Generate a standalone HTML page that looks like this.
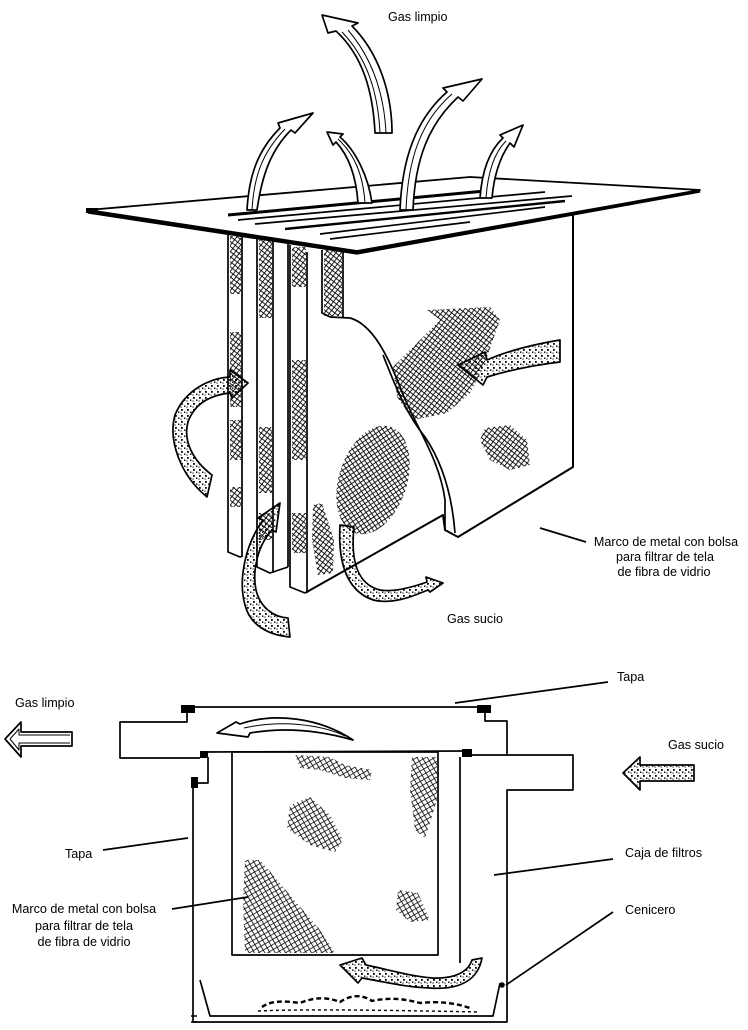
<!DOCTYPE html>
<html><head><meta charset="utf-8"><style>
html,body{margin:0;padding:0;background:#fff;}
svg{display:block;}
text{font-family:"Liberation Sans",Arial,sans-serif;font-size:12.6px;fill:#000;}
</style></head><body>
<svg width="748" height="1030" viewBox="0 0 748 1030" xmlns="http://www.w3.org/2000/svg">
<defs>
<pattern id="h" width="4" height="4" patternUnits="userSpaceOnUse" patternTransform="rotate(38)">
<path d="M0,0H4M0,0V4" stroke="#000" stroke-width="1.7"/></pattern>
<pattern id="h2" width="4.5" height="4.5" patternUnits="userSpaceOnUse" patternTransform="rotate(-30)">
<path d="M0,0H4.5M0,0V4.5" stroke="#000" stroke-width="1.6"/></pattern>
<pattern id="d" width="6" height="6" patternUnits="userSpaceOnUse">
<rect x="1" y="1" width="1.8" height="1.8"/><rect x="4" y="3.5" width="1.4" height="1.4"/><rect x="0.5" y="4.5" width="1.1" height="1.1"/></pattern>
</defs>
<g fill="none" stroke="#000" stroke-width="1.7" stroke-linejoin="round">

<!-- ===== TOP FIGURE ===== -->
<path d="M307,252 L357,253 L573,215 L573,467 L458,537 L445,530 L443,515 L305,593 Z" fill="#fff" stroke="none"/>
<rect x="228" y="234" width="14" height="318" fill="#fff" stroke="none"/>
<rect x="242" y="236" width="48" height="337" fill="#fff" stroke="none"/>
<g stroke="none" fill="url(#h)">
<rect x="230" y="236" width="11" height="58"/>
<rect x="230" y="332" width="11" height="75"/>
<rect x="230" y="420" width="11" height="40"/>
<rect x="230" y="487" width="11" height="20"/>
<rect x="259" y="238" width="13" height="80"/>
<rect x="259" y="427" width="13" height="66"/>
<rect x="259" y="513" width="13" height="27"/>
<rect x="292" y="247" width="14" height="40"/>
<rect x="292" y="360" width="14" height="100"/>
<rect x="292" y="513" width="14" height="40"/>
<rect x="324" y="250" width="18" height="66"/>
</g>
<path d="M228,234 V552 L240,557 L243,556 M242,236 V557"/>
<path d="M257,238 V567 L270,573 L288,567 M273,240 V573 M288,243 V567"/>
<path d="M290,245 V587 L305,593 M307,252 V593"/>
<path d="M322,250 V313 L330,317 M343,252 V317"/>
<path d="M573,215 V467 L458,537 L445,530 L443,515 L305,593" stroke-width="2"/>
<path d="M330,317 L350,318 C372,324 388,355 402,392 C415,425 440,460 445,500 L445,530"/>
<path d="M383,355 C395,385 405,412 425,437 C442,462 452,495 455,533"/>
<g stroke="none" fill="url(#h)">
<polygon points="427,310 490,307 500,320 487,357 477,380 470,393 447,413 413,420 397,397 393,367 417,343 440,320"/>
<polygon points="485,428 510,425 527,440 530,465 510,470 490,460 480,440"/>
<ellipse cx="373" cy="480" rx="34" ry="56" transform="rotate(18 373 480)"/>
<polygon points="313,505 322,503 334,540 333,573 318,575 312,540"/>
</g>
<!-- plate -->
<polygon points="88,210 470,177 700,190 357,251" fill="#fff" stroke-width="1.8"/>
<polyline points="88,212 357,253 700,191" stroke-width="3.2"/>
<rect x="86" y="208" width="12" height="5" fill="#000" stroke="none"/>
<!-- slots -->
<line x1="228" y1="215" x2="485" y2="191" stroke-width="3"/>
<line x1="238" y1="220" x2="545" y2="192"/>
<line x1="255" y1="224" x2="572" y2="196"/>
<line x1="285" y1="229" x2="565" y2="201" stroke-width="2.4"/>
<line x1="320" y1="234" x2="545" y2="207"/>
<line x1="330" y1="239" x2="470" y2="222"/>

<!-- top arrows -->
<path d="M247,210 C249,175 258,150 280,128 L278,123 L313,113 L295,133 L291,130 C271,150 262,175 257,210 Z" fill="#fff"/>
<path d="M252,210 C254,175 263,152 285,129" stroke-width="1"/>
<path d="M358,203 C356,175 348,155 336,142 L333,145 L327,132 L343,134 L340,137 C355,150 368,175 372,203 Z" fill="#fff"/>
<path d="M365,203 C363,175 355,155 338,139" stroke-width="1"/>
<path d="M400,210 C402,160 415,120 447,92 L443,88 L482,79 L463,101 L458,97 C428,125 415,160 413,210 Z" fill="#fff"/>
<path d="M406,210 C408,160 420,122 452,94" stroke-width="1"/>
<path d="M480,198 C482,170 490,150 503,138 L500,135 L523,125 L514,147 L510,143 C500,157 494,175 492,198 Z" fill="#fff"/>
<path d="M486,198 C488,170 495,152 506,141" stroke-width="1"/>
<path d="M375,133 C373,90 362,55 336,31 L328,33 L322,15 L358,23 L352,26 C378,52 392,92 392,133 Z" fill="#fff"/>
<path d="M380,133 C378,92 367,58 342,32 M386,133 C384,92 372,58 348,30" stroke-width="1"/>

<!-- dotted arrows top figure -->
<path d="M560,340 C530,345 505,352 487,360 L485,352 L458,365 L483,385 L487,377 C510,370 535,365 560,362 Z" fill="url(#d)"/>
<path d="M230,377 C210,378 185,390 175,415 C168,440 180,475 207,497 L212,475 C192,460 183,440 188,422 C195,402 212,395 230,393 L232,398 L248,383 L230,370 Z" fill="url(#d)"/>
<path d="M280,503 L258,518 L263,520 C245,545 238,580 245,605 C250,625 268,635 290,637 L288,618 C273,617 260,607 256,590 C252,570 258,545 272,530 L276,532 Z" fill="url(#d)"/>
<path d="M340,525 C338,560 345,590 373,600 C395,605 415,595 428,590 L430,592 L443,583 L426,577 L427,582 C410,588 392,592 380,590 C360,585 350,565 354,527 Z" fill="url(#d)"/>

<line x1="540" y1="528" x2="586" y2="542"/>

<!-- ===== BOTTOM FIGURE ===== -->
<line x1="195" y1="707" x2="478" y2="707"/>
<rect x="181" y="705" width="14" height="8" fill="#000" stroke="none"/>
<rect x="477" y="705" width="14" height="8" fill="#000" stroke="none"/>
<path d="M187,713 V722 H120 V758 H200"/>
<path d="M485,713 V721 H507 V755"/>
<line x1="200" y1="752" x2="466" y2="751"/>
<rect x="200" y="751" width="8" height="7" fill="#000" stroke="none"/>
<rect x="462" y="749" width="10" height="8" fill="#000" stroke="none"/>
<path d="M467,755 H573 V790 H507 V1020"/>
<path d="M208,757 V783 H197"/>
<rect x="191" y="777" width="7" height="11" fill="#000" stroke="none"/>
<path d="M193,783 V1022 H507 V1020"/>
<path d="M191,1016 H197 M191,1022 H197" stroke-width="1.5"/>
<rect x="232" y="752" width="206" height="203" fill="#fff"/>
<line x1="460" y1="757" x2="460" y2="963"/>
<g stroke="none" fill="url(#h2)">
<polygon points="295,755 330,757 345,765 372,770 370,780 345,778 320,770 300,768"/>
<polygon points="412,757 437,757 437,800 425,838 415,830 410,790"/>
<polygon points="290,805 310,797 330,815 343,840 335,852 310,845 287,828"/>
<polygon points="245,860 260,860 290,895 320,930 335,953 245,953 243,900"/>
<polygon points="398,890 418,893 430,920 410,922 396,910"/>
</g>
<polyline points="200,980 210,1016 493,1016 500,983"/>
<circle cx="502" cy="985" r="2.8" fill="#000" stroke="none"/>
<path d="M262,1007 C272,1000 285,1001 300,1003 C312,998 325,996 340,1002 C350,995 362,994 372,1001 C390,997 405,999 420,1003 C440,1001 455,1003 470,1008" stroke-width="2.4" stroke-dasharray="5 3"/>
<path d="M258,1011 C300,1009 380,1010 480,1012" stroke-width="1.4" stroke-dasharray="3 3"/>

<path d="M217,733 L236,722 L240,724 C275,712 320,718 353,740 C325,732 290,726 250,733 L248,737 Z" fill="#fff"/>
<path d="M244,728 C280,720 320,724 345,736" stroke-width="1"/>
<path d="M482,958 C478,980 460,990 430,988 C405,987 385,982 362,978 L358,983 L340,965 L362,958 L366,965 C390,970 410,976 432,978 C455,979 468,972 472,960 Z" fill="url(#d)"/>

<path d="M5,739 L21,722 L21,732 L72,732 L72,746 L21,746 L21,757 Z" fill="#fff"/>
<path d="M10,739 L19,729 L19,735 L70,735 M10,739 L19,750 L19,743 L70,743" stroke-width="1"/>
<path d="M623,773 L640,757 L640,765 L694,765 L694,781 L640,781 L640,790 Z" fill="url(#d)"/>

<line x1="455" y1="703" x2="608" y2="682"/>
<line x1="103" y1="850" x2="188" y2="838"/>
<line x1="494" y1="875" x2="613" y2="859"/>
<line x1="506" y1="985" x2="613" y2="912"/>
<line x1="172" y1="909" x2="248" y2="897"/>
</g>

<text x="388" y="21">Gas limpio</text>
<text x="447" y="623">Gas sucio</text>
<text x="666" y="546" text-anchor="middle">Marco de metal con bolsa</text>
<text x="665" y="561" text-anchor="middle">para filtrar de tela</text>
<text x="664" y="576" text-anchor="middle">de fibra de vidrio</text>

<text x="617" y="681">Tapa</text>
<text x="15" y="707">Gas limpio</text>
<text x="668" y="749">Gas sucio</text>
<text x="65" y="858">Tapa</text>
<text x="625" y="857">Caja de filtros</text>
<text x="625" y="914">Cenicero</text>
<text x="84" y="913" text-anchor="middle">Marco de metal con bolsa</text>
<text x="84" y="930" text-anchor="middle">para filtrar de tela</text>
<text x="84" y="946" text-anchor="middle">de fibra de vidrio</text>
</svg>
</body></html>
